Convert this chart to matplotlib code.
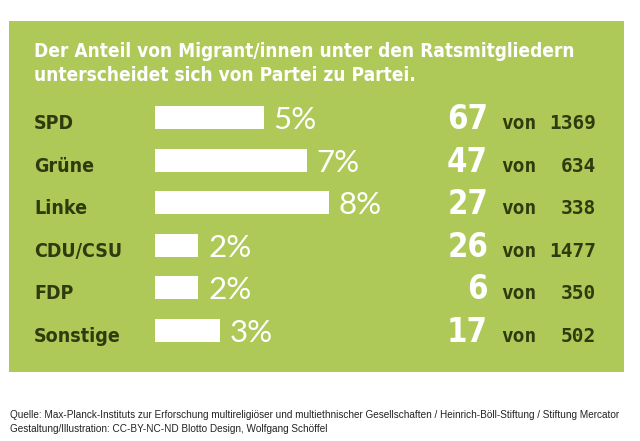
import matplotlib
matplotlib.use("Agg")
import matplotlib.pyplot as plt
from matplotlib.patches import Rectangle
from matplotlib.transforms import blended_transform_factory

# ---- data ----
parties = ["SPD", "Grüne", "Linke", "CDU/CSU", "FDP", "Sonstige"]
percent = [5, 7, 8, 2, 2, 3]
migrants = [67, 47, 27, 26, 6, 17]
totals = [1369, 634, 338, 1477, 350, 502]
title_lines = ["Der Anteil von Migrant/innen unter den Ratsmitgliedern",
               "unterscheidet sich von Partei zu Partei."]
source_lines = [
    "Quelle: Max-Planck-Instituts zur Erforschung multireligiöser und multiethnischer Gesellschaften / Heinrich-Böll-Stiftung / Stiftung Mercator",
    "Gestaltung/Illustration: CC-BY-NC-ND Blotto Design, Wolfgang Schöffel",
]

GREEN = "#aec957"
DARK = "#2e3b0e"
W, H = 640, 441
DPI = 100

fig = plt.figure(figsize=(W / DPI, H / DPI), dpi=DPI)
fig.patch.set_facecolor("white")

# background axes in pixel coords
bg = fig.add_axes([0, 0, 1, 1])
bg.set_xlim(0, W)
bg.set_ylim(H, 0)
bg.axis("off")
bg.add_patch(Rectangle((9, 21), 615, 351, facecolor=GREEN, edgecolor="none"))

cond = dict(family="DejaVu Sans", fontstretch="condensed", fontweight="bold")
mono = dict(family="DejaVu Sans Mono", fontweight="bold")

for k, line in enumerate(title_lines):
    bg.text(34, 57 + 24 * k, line, color="white", fontsize=13.7, va="baseline",
            ha="left", **cond)

for i, line in enumerate(source_lines):
    bg.text(10, 418 + 14 * i, line, color="#222222", fontsize=7.2,
            family="Liberation Sans", va="baseline", ha="left")

# bar axes
px_per_pct = 21.7
x0 = 155
xmax = 10
row0 = 117.5
step = 42.6
top = row0 - step / 2
height = step * len(parties)
ax = fig.add_axes([x0 / W, 1 - (top + height) / H, xmax * px_per_pct / W, height / H])
ax.set_xlim(0, xmax)
ax.set_ylim(len(parties) - 0.5, -0.5)
ax.axis("off")
ax.patch.set_alpha(0)

ys = list(range(len(parties)))
ax.barh(ys, percent, height=23 / step, color="white", edgecolor="none")

base = 11.5 / step
figx = blended_transform_factory(bg.transData, ax.transData)
for i, (p, pc, m, t) in enumerate(zip(parties, percent, migrants, totals)):
    y = i + base
    ax.text(34, y, p, transform=figx, color=DARK, fontsize=14, va="baseline",
            ha="left", **cond)
    ax.text(pc + 0.45, y, f"{pc}%", color="white", fontsize=22.5, va="baseline",
            ha="left", family="Lato")
    ax.text(488, y, f"{m}", transform=figx, color="white", fontsize=23.5,
            va="baseline", ha="right", **cond)
    ax.text(501, y, "von", transform=figx, color=DARK, fontsize=14,
            va="baseline", ha="left", **mono)
    ax.text(596, y, f"{t}", transform=figx, color=DARK, fontsize=14,
            va="baseline", ha="right", **mono)

fig.savefig("out.png", dpi=DPI)
